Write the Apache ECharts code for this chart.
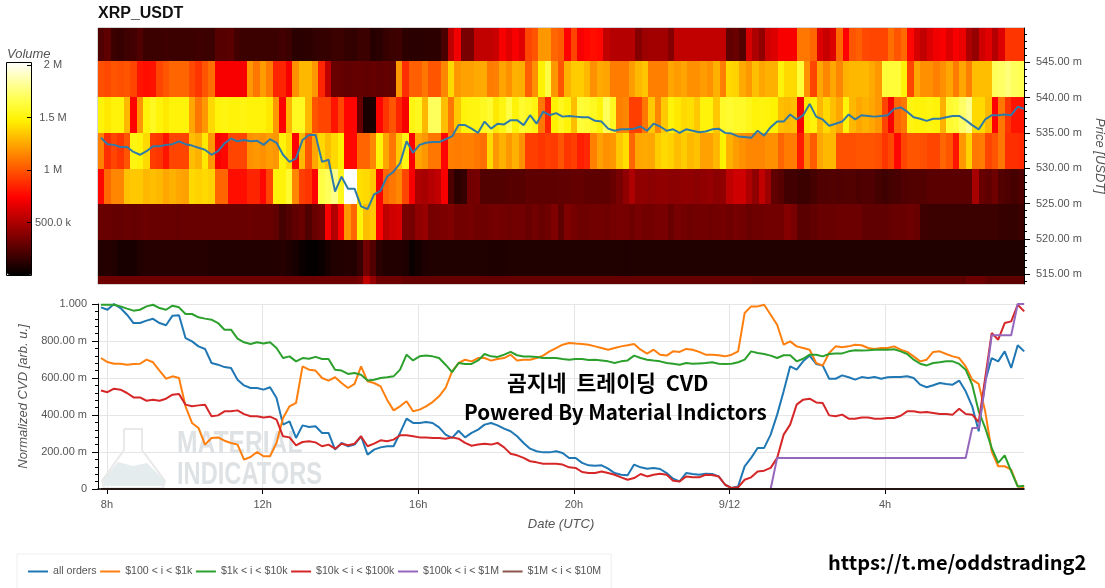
<!DOCTYPE html>
<html>
<head>
<meta charset="utf-8">
<title>XRP_USDT</title>
<script src="https://cdn.jsdelivr.net/npm/echarts@6/dist/echarts.min.js"></script>
<style>
  html, body { margin: 0; padding: 0; background: #fff; }
  #main { width: 1105px; height: 588px; }
</style>
</head>
<body>
<div id="main"></div>
<script>
// volume per 10 minute column (in thousands), one list per price band
var vol545 = [230,270,170,160,180,190,230,170,170,170,
  180,170,170,170,170,180,170,170,250,250,
  260,190,170,170,170,170,170,170,190,170,
  120,120,130,140,150,160,170,170,150,140,
  170,170,110,120,160,170,180,130,120,120,
  130,130,130,210,550,700,350,350,560,560,
  560,580,720,650,720,650,950,1000,1200,1200,
  1050,1020,740,950,720,760,780,760,560,520,
  520,520,520,380,450,470,470,470,380,560,
  560,560,560,560,560,560,560,280,300,240,
  620,500,420,600,640,720,720,720,1100,1100,
  1050,640,580,640,1060,740,1000,1030,960,950,
  950,950,1080,1000,1060,760,620,560,640,700,
  720,640,720,680,500,430,600,650,520,640,
  900,900,900];
var vol540 = [980,960,1000,980,1000,950,800,780,790,950,
  1000,1050,1050,1050,960,900,1000,1080,720,720,
  720,720,720,1200,1100,1220,1120,850,850,720,
  1180,1300,1300,1200,850,550,300,290,280,290,
  290,280,290,280,290,280,1200,880,1030,1030,
  1100,1000,1000,1150,1400,1200,1230,1230,1260,1260,
  1120,1130,1240,1180,1280,1270,1030,1180,1480,1650,
  1200,1000,1280,1360,1360,1300,1180,1260,1240,1120,
  1120,1120,1220,1300,1340,1130,1130,1130,1250,1220,
  1240,1180,1180,1220,1180,1280,1130,1400,1380,1260,
  1200,1320,1250,1280,1280,1500,1400,1400,1620,1180,
  950,1250,1150,1250,1150,1280,1300,1300,1300,1260,
  1200,1620,1620,1620,1500,950,1250,1180,1180,1130,
  1180,1250,1120,1250,1130,1320,1320,1320,1700,1720,
  1760,1700,1680];
var vol535 = [1500,1450,1500,1500,1300,740,1200,1500,1560,1500,
  1450,1500,1500,1500,1250,1100,1200,1400,1500,1520,
  1500,1500,1520,1500,1500,1500,1450,1200,740,1300,
  1560,1560,1300,1000,950,950,800,950,750,750,
  300,70,80,750,900,1000,850,720,1520,1550,
  1300,1700,1700,1320,1100,1350,1500,1520,1520,1560,
  1600,1450,1520,1650,1500,1600,1560,1520,1100,850,
  1480,1550,1500,1320,1620,1600,1560,1500,1700,1560,
  1130,1150,930,930,1100,1350,1150,1350,1500,1450,
  1400,1420,1350,1500,1500,1350,1580,1600,1580,1580,
  1540,1500,1510,1500,1480,1320,1300,1320,720,1450,
  1500,1300,1400,1320,1250,1500,1300,1250,1280,1250,
  1200,950,720,1050,1100,1520,1500,1500,1520,1500,
  1280,1600,1620,1720,1800,1400,1400,1300,740,1100,
  900,800,800];
var vol530 = [1130,880,950,900,1000,1520,1500,1400,920,900,
  800,950,950,950,1320,1280,1450,1200,720,760,
  950,950,950,1180,1200,1180,1220,1200,1500,1400,
  740,1300,1000,1250,1400,1320,1400,1480,760,760,
  1050,1050,1150,1500,1250,1100,1350,1520,740,1250,
  1200,1100,1100,750,1130,1120,1130,1130,1100,1080,
  1400,1200,1280,1200,1280,1180,930,930,900,930,
  920,1000,900,930,830,860,1130,1230,1180,1200,
  1350,1420,1050,1250,1260,1250,1360,1400,1380,1320,
  1360,1300,1330,1230,1230,1300,1480,1280,1220,1180,
  1150,1150,1150,1180,1180,1050,1120,1120,820,1150,
  1020,1250,1300,1300,980,980,980,1000,1000,1000,
  980,900,960,760,950,1000,1000,980,950,950,
  1050,1000,800,1200,1380,1100,1120,950,1000,1100,
  880,880,860];
var vol525 = [760,1060,1150,1150,1330,1350,1350,1300,1320,1300,
  1250,1280,1250,1230,1400,1380,1400,1380,1050,1050,
  780,780,780,850,850,760,950,1500,1500,1600,
  1150,930,900,740,1650,1700,1780,1550,2030,2030,
  1420,1400,1350,740,1050,1100,1150,950,720,500,
  480,520,560,720,220,130,150,330,340,240,
  240,240,240,250,250,250,270,270,270,270,
  270,280,280,290,290,270,270,270,270,300,
  350,420,500,420,420,400,420,420,400,400,
  420,420,400,420,430,400,420,550,600,600,
  500,420,560,450,280,250,190,190,170,170,
  200,230,230,240,230,240,240,220,230,230,
  200,180,200,210,230,240,240,240,260,260,
  260,260,260,260,260,480,300,280,320,240,
  220,200,230];
var vol520 = [300,300,290,290,300,290,300,310,300,300,
  300,300,290,300,300,300,300,300,300,300,
  300,300,300,310,300,300,300,280,200,240,
  280,300,230,300,330,720,520,740,1200,1050,
  1500,1320,1350,740,550,600,620,350,340,420,
  440,340,350,360,370,330,330,340,320,320,
  330,340,330,320,330,330,300,330,300,320,
  370,270,370,340,320,320,330,330,320,340,
  350,340,320,350,330,330,350,350,300,350,
  330,320,330,330,320,330,340,320,340,330,
  300,320,320,330,330,330,380,350,260,260,
  280,300,300,300,310,310,310,310,280,280,
  280,280,290,300,300,320,300,180,170,170,
  170,170,170,170,170,170,170,170,170,160,
  160,150,170];
var vol515 = [100,110,100,70,70,70,100,110,110,110,
  110,110,110,110,110,110,110,100,100,100,
  100,100,100,100,100,100,100,100,110,90,
  70,30,15,15,30,70,100,100,110,100,
  160,330,230,120,100,100,100,90,30,60,
  90,95,95,95,95,95,95,95,95,95,
  90,90,90,95,95,95,95,95,95,95,
  95,95,95,95,95,95,95,95,95,95,
  95,90,95,95,95,95,95,95,95,95,
  95,95,95,95,95,95,95,95,95,95,
  95,95,95,95,95,95,95,95,95,95,
  95,95,95,95,95,95,95,95,95,95,
  95,95,95,95,95,95,95,95,95,95,
  95,95,95,95,95,95,95,95,95,95,
  95,95,95];
var vol510 = [320,320,320,320,320,320,320,320,320,320,
  320,320,320,320,320,320,320,320,320,320,
  320,320,320,320,320,320,320,320,320,320,
  320,320,320,320,320,320,320,320,320,320,
  350,560,430,320,320,320,320,290,290,290,
  290,290,290,290,290,290,290,290,290,290,
  290,290,290,290,290,290,290,290,290,290,
  290,290,290,290,290,290,290,290,290,290,
  290,290,290,290,290,290,290,290,290,290,
  290,290,290,290,290,290,290,290,290,290,
  290,270,270,270,270,270,270,270,270,270,
  270,270,270,270,270,270,270,270,270,270,
  270,270,270,270,270,270,270,270,270,270,
  270,270,270,270,310,310,310,270,270,270,
  270,270,270];

// lower edge of each band, same order as the volume lists
var bandFloors = [545.18, 540.08, 534.98, 529.88, 524.78, 519.82, 514.72, 509.62];
var bandHeight = 5.1;
var bandVolumes = [vol545, vol540, vol535, vol530, vol525, vol520, vol515, vol510];

// price and normalized CVD, one sample every 10 minutes
var price = [534.3,533.4,533.3,533,533,532.3,531.9,532.4,533.1,533.1,
  533.3,533.4,533.8,533.4,533.2,532.9,532.6,531.9,532.4,533.5,
  534.2,533.8,534,533.8,533.9,533.3,534.1,533.6,531.9,530.9,
  531.4,534,534.7,534.7,530.9,531.2,526.7,528.8,527.1,527.1,
  524.6,524.2,526.3,526.8,528.8,529.5,530.7,533.8,532.2,533.3,
  533.6,533.7,533.7,534.1,534.5,536.1,536.1,535.6,535,536.6,
  535.6,536.3,536.2,536.8,536.8,536.1,537.5,536.3,538,537.5,
  537.8,537.3,537.4,537.3,537.2,537.2,536.7,536.6,535.6,535.3,
  535.5,535.5,535.6,535.9,535.3,536.3,535.9,535.3,535.5,535,
  535.5,535.3,535.1,535.2,535.5,535.6,535,534.9,534.5,534.4,
  534.3,535.3,534.6,535.8,536.6,536.6,537.6,536.9,537.5,539.1,
  537.3,536.9,536,536.3,536.6,537.6,536.9,537.5,537.4,537.3,
  537.4,537.5,538.4,538.6,538,537.2,537,536.7,537,537,
  537.2,537.4,537.4,536.8,536.1,535.5,536.9,537.5,537.5,537.6,
  537.5,538.7,538.4];
var cvdAll = [982,969,1000,978,942,897,897,910,920,897,
  885,937,939,816,798,771,757,681,672,659,
  654,591,560,546,546,537,550,492,348,366,
  276,344,335,339,303,303,213,249,231,240,
  285,186,213,225,231,231,303,380,357,357,
  362,357,333,294,276,315,279,303,321,348,
  357,344,326,312,285,249,218,204,198,198,
  204,195,168,168,141,128,126,128,110,86,
  77,74,132,117,110,114,108,86,56,41,
  86,81,77,83,81,68,23,5,14,122,
  168,222,222,294,402,528,663,645,690,721,
  676,668,596,596,614,604,591,605,600,605,
  596,604,605,605,609,600,564,550,561,573,
  568,564,586,528,447,312,582,708,690,744,
  654,777,744];
var cvd100 = [708,686,677,677,672,676,677,699,685,640,
  596,609,600,447,357,330,240,276,279,261,
  249,240,159,173,200,177,177,249,384,447,
  465,663,645,640,600,586,604,573,546,568,
  663,582,573,555,483,425,447,474,420,429,
  447,470,501,546,636,681,699,690,708,708,
  694,703,708,726,695,699,699,708,721,744,
  762,780,789,786,784,780,771,762,753,762,
  771,777,784,753,732,753,726,721,744,741,
  757,753,741,726,726,723,717,726,744,951,
  987,987,996,942,888,780,798,771,762,753,
  681,667,735,771,766,771,780,777,762,757,
  762,762,771,753,741,717,690,699,741,744,
  730,717,708,663,591,568,420,204,123,123,
  105,14,9];
var cvd1k = [996,996,996,987,975,964,969,987,996,978,
  969,991,982,946,946,928,921,915,897,861,
  861,813,793,784,793,786,793,762,708,717,
  690,708,704,714,703,703,645,640,622,627,
  618,587,591,600,604,609,645,726,695,717,
  721,717,708,672,632,681,676,676,695,730,
  717,714,726,741,723,716,716,714,708,708,
  708,703,699,703,703,697,699,695,690,681,
  690,695,721,708,699,694,690,681,677,672,
  681,677,679,681,685,677,676,677,685,699,
  744,735,730,721,708,723,723,690,704,726,
  726,717,730,732,733,744,750,748,750,753,
  753,753,755,744,730,699,677,668,681,685,
  690,690,676,645,564,420,330,222,141,182,
  95,14,18];
var cvd10k = [532,523,542,537,519,495,495,477,483,477,
  488,510,514,456,447,452,456,393,398,420,
  420,425,405,393,393,387,391,375,285,279,
  236,254,258,252,231,240,218,245,236,245,
  285,231,245,263,258,267,290,290,285,279,
  279,276,276,272,279,272,249,234,240,245,
  240,249,225,191,182,168,150,144,137,137,
  137,132,117,114,92,86,86,95,86,77,
  63,50,59,81,68,77,83,77,45,41,
  68,63,63,77,76,68,23,5,9,50,
  63,95,99,114,168,294,348,456,483,488,
  468,465,398,393,402,380,380,387,386,380,
  380,384,384,396,420,420,414,416,411,405,
  405,402,434,405,402,362,600,843,807,897,
  906,996,960];
var cvd100k = [0,0,0,0,0,0,0,0,0,0,
  0,0,0,0,0,0,0,0,0,0,
  0,0,0,0,0,0,0,0,0,0,
  0,0,0,0,0,0,0,0,0,0,
  0,0,0,0,0,0,0,0,0,0,
  0,0,0,0,0,0,0,0,0,0,
  0,0,0,0,0,0,0,0,0,0,
  0,0,0,0,0,0,0,0,0,0,
  0,0,0,0,0,0,0,0,0,0,
  0,0,0,0,0,0,0,0,0,0,
  0,0,0,0,168,168,168,168,168,168,
  168,168,168,168,168,168,168,168,168,168,
  168,168,168,168,168,168,168,168,168,168,
  168,168,168,168,330,330,564,831,831,831,
  831,1000,1000];
var cvd1m = [0,0,0,0,0,0,0,0,0,0,
  0,0,0,0,0,0,0,0,0,0,
  0,0,0,0,0,0,0,0,0,0,
  0,0,0,0,0,0,0,0,0,0,
  0,0,0,0,0,0,0,0,0,0,
  0,0,0,0,0,0,0,0,0,0,
  0,0,0,0,0,0,0,0,0,0,
  0,0,0,0,0,0,0,0,0,0,
  0,0,0,0,0,0,0,0,0,0,
  0,0,0,0,0,0,0,0,0,0,
  0,0,0,0,0,0,0,0,0,0,
  0,0,0,0,0,0,0,0,0,0,
  0,0,0,0,0,0,0,0,0,0,
  0,0,0,0,0,0,0,0,0,0,
  0,0,0];

var cvdNames = ['all orders', '$100 < i < $1k', '$1k < i < $10k', '$10k < i < $100k', '$100k < i < $1M', '$1M < i < $10M'];
var cvdSeries = [cvdAll, cvd100, cvd1k, cvd10k, cvd100k, cvd1m];
var cvdColors = ['#1f77b4', '#ff7f0e', '#2ca02c', '#d62728', '#9467bd', '#8c564b'];

// x axis runs in hours since midnight of 9/11
var hourMin = 7.77, hourMax = 31.57;
var sampleStart = 7.847, sampleStep = 0.1671;
var hourTicks = [8, 12, 16, 20, 24, 28];
var hourLabels = ['8h', '12h', '16h', '20h', '9/12', '4h'];

var priceTicks = [515, 520, 525, 530, 535, 540, 545];
var priceMinorTicks = [514,516,517,518,519,521,522,523,524,526,527,528,529,531,532,533,534,536,537,538,539,541,542,543,544,546,547,548,549];
var volumeTicks = [500, 1000, 1500, 2000];
var volumeLabels = ['500.0 k', '1 M', '1.5 M', '2 M'];

var labelColor = '#555';
var fontName = '"Liberation Sans", Arial, sans-serif';
var markFont = 'bold 32px "Liberation Sans", sans-serif';
var captionFont = '"Noto Sans CJK KR", sans-serif';

// "hot" palette
var hotColors = ['#000000', '#400000', '#800000', '#bf0000', '#ff0000', '#ff3c00', '#ff7800', '#ffb500', '#fff200', '#ffff48', '#ffffa3', '#ffffff'];

var binHours = (hourMax - hourMin) / vol545.length;
var heatData = [];
bandVolumes.forEach(function (row, b) {
    row.forEach(function (v, i) {
        heatData.push([hourMin + i * binHours, bandFloors[b], v]);
    });
});

function sampled(values) {
    return values.map(function (v, i) {
        return [sampleStart + i * sampleStep, v];
    });
}

// rounded edges so neighbouring cells leave no antialiased seam
function renderCell(params, api) {
    var x = api.value(0), floor = api.value(1);
    var a = api.coord([x, floor + bandHeight]);
    var b = api.coord([x + binHours, floor]);
    var left = Math.round(a[0]), top = Math.round(a[1]);
    return {
        type: 'rect',
        shape: { x: left, y: top, width: Math.round(b[0]) - left, height: Math.round(b[1]) - top },
        style: { fill: api.visual('color') }
    };
}

var series = [
    {
        type: 'custom',
        xAxisIndex: 0,
        yAxisIndex: 0,
        renderItem: renderCell,
        encode: { x: 0, y: 1 },
        data: heatData,
        clip: true,
        silent: true
    },
    {
        name: 'Price',
        type: 'line',
        xAxisIndex: 0,
        yAxisIndex: 0,
        showSymbol: false,
        z: 5,
        data: sampled(price),
        lineStyle: { color: '#2f7aa8', width: 2 },
        itemStyle: { color: '#2f7aa8' }
    }
];
cvdSeries.forEach(function (values, i) {
    series.push({
        name: cvdNames[i],
        type: 'line',
        xAxisIndex: 1,
        yAxisIndex: 2,
        showSymbol: false,
        z: 5,
        data: sampled(values),
        color: cvdColors[i],
        lineStyle: { color: cvdColors[i], width: 2 }
    });
});

var opt = {
    animation: false,
    backgroundColor: '#fff',
    textStyle: { fontFamily: fontName },
    title: [
        { text: 'XRP_USDT', left: 98, top: 6, padding: 0, textStyle: { fontSize: 16, fontWeight: 'bold', color: '#111', fontFamily: fontName } },
        { text: 'Volume', left: 7, top: 48, padding: 0, textStyle: { fontSize: 13, fontStyle: 'italic', fontWeight: 'normal', color: labelColor, fontFamily: fontName } }
    ],
    legend: {
        data: cvdNames,
        left: 17,
        top: 554,
        padding: [12, 10, 12, 11],
        itemGap: 3.6,
        itemWidth: 20,
        itemHeight: 2,
        icon: 'rect',
        borderColor: '#eee',
        borderWidth: 1,
        textStyle: { fontSize: 10.6, color: labelColor, fontFamily: fontName }
    },
    grid: [
        { left: 98, top: 28, width: 926, height: 256, outerBoundsMode: 'none', show: true, borderColor: '#aaa', borderWidth: 1 },
        { left: 98, top: 304, width: 926, height: 185, outerBoundsMode: 'none' },
        { left: 7, top: 62, width: 25, height: 213, outerBoundsMode: 'none' }
    ],
    visualMap: {
        type: 'continuous',
        seriesIndex: 0,
        dimension: 2,
        min: 0,
        max: 2030,
        left: 7,
        top: 62,
        padding: 0,
        itemWidth: 25,
        itemHeight: 213,
        calculable: false,
        hoverLink: false,
        text: null,
        inRange: { color: hotColors }
    },
    xAxis: [
        { type: 'value', gridIndex: 0, min: hourMin, max: hourMax, show: false },
        {
            type: 'value',
            gridIndex: 1,
            position: 'bottom',
            min: hourMin,
            max: hourMax,
            name: 'Date (UTC)',
            nameLocation: 'middle',
            nameGap: 29,
            nameTextStyle: { fontStyle: 'italic', fontSize: 13, color: labelColor },
            axisLine: { show: false, onZero: false },
            axisTick: { show: true, length: 5, lineStyle: { color: '#000' }, customValues: hourTicks },
            axisLabel: {
                margin: 10,
                fontSize: 11,
                color: labelColor,
                customValues: hourTicks,
                formatter: function (v) { return hourLabels[hourTicks.indexOf(v)]; }
            },
            splitLine: { show: true, lineStyle: { color: '#e5e5e5' } }
        },
        { type: 'value', gridIndex: 2, min: 0, max: 1, show: false },
        // only the base line, kept above the series that sit on zero
        {
            type: 'value',
            gridIndex: 1,
            position: 'bottom',
            min: hourMin,
            max: hourMax,
            z: 6,
            axisLine: { show: true, onZero: false, lineStyle: { color: '#000', width: 1.5 } },
            axisTick: { show: false },
            axisLabel: { show: false },
            splitLine: { show: false }
        }
    ],
    yAxis: [
        {
            type: 'value',
            gridIndex: 0,
            position: 'right',
            min: 513.6,
            max: 549.85,
            z: 6,
            name: 'Price [USDT]',
            nameLocation: 'middle',
            nameRotate: -90,
            nameGap: 65,
            nameTextStyle: { fontStyle: 'italic', fontSize: 13, color: labelColor },
            axisLine: { show: true, onZero: false, lineStyle: { color: '#000' } },
            axisTick: { show: true, length: 6, lineStyle: { color: '#000' }, customValues: priceTicks },
            axisLabel: {
                margin: 12,
                fontSize: 11,
                color: labelColor,
                customValues: priceTicks,
                formatter: function (v) { return v.toFixed(2) + ' m'; }
            },
            splitLine: { show: false }
        },
        {
            type: 'value',
            gridIndex: 0,
            position: 'right',
            min: 513.6,
            max: 549.85,
            z: 6,
            axisLine: { show: false, onZero: false },
            axisTick: { show: true, length: 3, lineStyle: { color: '#000' }, customValues: priceMinorTicks },
            axisLabel: { show: false },
            splitLine: { show: false }
        },
        {
            type: 'value',
            gridIndex: 1,
            min: 0,
            max: 1000,
            interval: 200,
            name: 'Normalized CVD [arb. u.]',
            nameLocation: 'middle',
            nameGap: 63,
            nameTextStyle: { fontStyle: 'italic', fontSize: 13, color: labelColor },
            axisLine: { show: true, onZero: false, lineStyle: { color: '#000' } },
            axisTick: { show: true, length: 6, lineStyle: { color: '#000' } },
            minorTick: { show: true, splitNumber: 5, length: 3, lineStyle: { color: '#000' } },
            axisLabel: {
                margin: 11,
                fontSize: 11,
                color: labelColor,
                formatter: function (v) {
                    if (v === 1000) return '1.000';
                    if (v === 0) return '0';
                    return v.toFixed(2) + ' m';
                }
            },
            splitLine: { show: true, lineStyle: { color: '#e5e5e5' } }
        },
        {
            type: 'value',
            gridIndex: 2,
            position: 'right',
            min: 0,
            max: 2030,
            z: 10,
            axisLine: { show: false, onZero: false },
            axisTick: { show: true, inside: true, length: 5, lineStyle: { color: '#000' }, customValues: volumeTicks },
            axisLabel: {
                margin: 21,
                align: 'center',
                fontSize: 11,
                color: labelColor,
                customValues: volumeTicks,
                formatter: function (v) { return volumeLabels[volumeTicks.indexOf(v)]; }
            },
            splitLine: { show: false }
        }
    ],
    series: series,
    graphic: [
        // colour bar frame
        { type: 'rect', z: 20, shape: { x: 6.5, y: 62.5, width: 25, height: 213 }, style: { fill: null, stroke: '#000', lineWidth: 1 }, silent: true },
        // watermark
        { type: 'polygon', z: 1, shape: { points: [[103, 480], [118, 462], [133, 466], [147, 463], [164, 480], [164, 486], [104, 486]] }, style: { fill: '#e4eced' }, silent: true },
        { type: 'polyline', z: 1, shape: { points: [[124, 429], [142, 429], [142, 450], [165, 481], [163, 488], [104, 488], [102, 481], [124, 450], [124, 429]] }, style: { fill: null, stroke: '#e9e9e9', lineWidth: 2 }, silent: true },
        { type: 'text', z: 1, x: 177, y: 428, scaleX: 0.77, style: { text: 'MATERIAL', font: markFont, fill: '#dfe2e4' }, silent: true },
        { type: 'text', z: 1, x: 177, y: 459, scaleX: 0.74, style: { text: 'INDICATORS', font: markFont, fill: '#dfe2e4' }, silent: true },
        // pasted captions
        { type: 'text', z: 30, left: 507, top: 372, style: { text: '곰지네  트레이딩  CVD', font: 'bold 21.6px ' + captionFont, fill: '#000' }, silent: true },
        { type: 'text', z: 30, left: 464, top: 402, style: { text: 'Powered By Material Indictors', font: 'bold 20.6px ' + captionFont, fill: '#000' }, silent: true },
        { type: 'text', z: 30, left: 828, top: 552, style: { text: 'https://t.me/oddstrading2', font: 'bold 20px ' + captionFont, fill: '#000' }, silent: true }
    ]
};

var chart = echarts.init(document.getElementById('main'), null, { renderer: 'canvas' });
chart.setOption(opt);
</script>
</body>
</html>
